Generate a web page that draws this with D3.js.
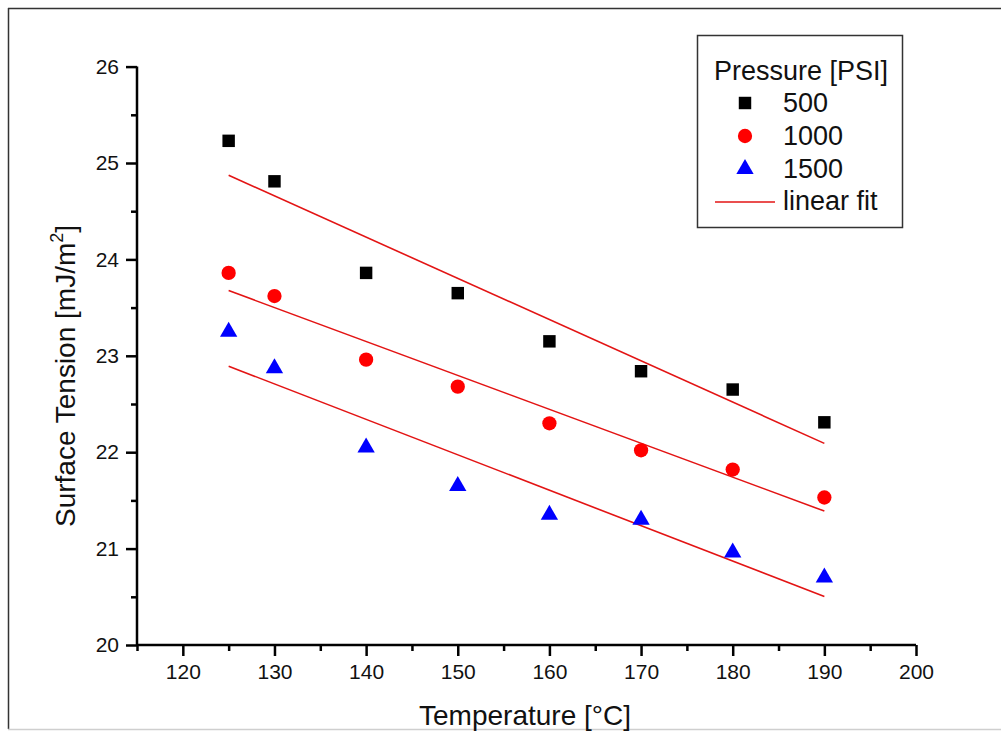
<!DOCTYPE html>
<html>
<head>
<meta charset="utf-8">
<script src="https://cdn.jsdelivr.net/npm/d3@7"></script>
<style>
  body { margin: 0; background: #fff; }
  svg { display: block; font-family: "Liberation Sans", Arial, sans-serif; }
  .axis path, .axis line { stroke: #000; stroke-width: 2.5; }
  .axis text { font-size: 21px; fill: #111; font-family: "Liberation Sans", Arial, sans-serif; }
</style>
</head>
<body>
<div id="chart"></div>
<script>
var width = 1001,
    height = 733;

// data
var temperatures = [125, 130, 140, 150, 160, 170, 180, 190];
var tension500  = [25.23, 24.81, 23.86, 23.65, 23.15, 22.84, 22.65, 22.31];
var tension1000 = [23.86, 23.62, 22.96, 22.68, 22.30, 22.02, 21.82, 21.53];
var tension1500 = [23.25, 22.87, 22.05, 21.65, 21.35, 21.30, 20.96, 20.70];
var pressures = ["500", "1000", "1500"];
var xTicks = [120, 130, 140, 150, 160, 170, 180, 190, 200];
var yTicks = [20, 21, 22, 23, 24, 25, 26];

var series = [
    {name: pressures[0], values: tension500, color: "#000000", shape: d3.symbolSquare},
    {name: pressures[1], values: tension1000, color: "#ff0000", shape: d3.symbolCircle},
    {name: pressures[2], values: tension1500, color: "#0000ff", shape: d3.symbolTriangle}
];

var plotLeft = 137, plotRight = 916, plotTop = 66.6, plotBottom = 645;

var x = d3.scaleLinear().domain([115, 200]).range([plotLeft, plotRight]);
var y = d3.scaleLinear().domain([20, 26]).range([plotBottom, plotTop]);

var svg = d3.select("#chart").append("svg")
    .attr("width", width)
    .attr("height", height);

// outer frame
svg.append("line").attr("x1", 8).attr("y1", 8.5).attr("x2", width).attr("y2", 8.5)
    .attr("stroke", "#333").attr("stroke-width", 1.5);
svg.append("line").attr("x1", 8.5).attr("y1", 8).attr("x2", 8.5).attr("y2", 729)
    .attr("stroke", "#333").attr("stroke-width", 1.5);
svg.append("line").attr("x1", 8).attr("y1", 729.5).attr("x2", width).attr("y2", 729.5)
    .attr("stroke", "#cfcfcf").attr("stroke-width", 1.5);

// minor ticks
svg.append("g").attr("class", "axis")
    .attr("transform", "translate(0," + plotBottom + ")")
    .call(d3.axisBottom(x).tickValues(d3.range(115, 200, 10)).tickSize(6).tickFormat(""))
    .select(".domain").remove();
svg.append("g").attr("class", "axis")
    .attr("transform", "translate(" + plotLeft + ",0)")
    .call(d3.axisLeft(y).tickValues(d3.range(20.5, 26, 1)).tickSize(6).tickFormat(""))
    .select(".domain").remove();

// major axes
var xAxis = svg.append("g").attr("class", "axis")
    .attr("transform", "translate(0," + plotBottom + ")")
    .call(d3.axisBottom(x).tickValues(xTicks).tickSize(11).tickSizeOuter(0)
        .tickPadding(8).tickFormat(d3.format("d")));
var yAxis = svg.append("g").attr("class", "axis")
    .attr("transform", "translate(" + plotLeft + ",0)")
    .call(d3.axisLeft(y).tickValues(yTicks).tickSize(11).tickSizeOuter(0)
        .tickPadding(7).tickFormat(d3.format("d")));

xAxis.select(".domain").attr("d", "M" + plotLeft + ",0H" + plotRight);
yAxis.select(".domain").attr("d", "M0," + plotTop + "V" + plotBottom);

// axis titles
svg.append("text")
    .attr("x", 525)
    .attr("y", 725)
    .attr("text-anchor", "middle")
    .style("font-size", "28px")
    .attr("fill", "#111")
    .text("Temperature [\u00B0C]");

var yTitle = svg.append("text")
    .attr("transform", "translate(75,376) rotate(-90)")
    .attr("text-anchor", "middle")
    .style("font-size", "28px")
    .attr("fill", "#111");
yTitle.append("tspan").text("Surface Tension [mJ/m");
yTitle.append("tspan").attr("dy", -12).style("font-size", "18px").text("2");
yTitle.append("tspan").attr("dy", 12).text("]");

// least squares fit for each series
var fitLine = function(values) {
    var mx = d3.mean(temperatures), my = d3.mean(values);
    var sxy = 0, sxx = 0;
    temperatures.forEach(function(t, i) {
        sxy += (t - mx) * (values[i] - my);
        sxx += (t - mx) * (t - mx);
    });
    var slope = sxy / sxx;
    var ends = d3.extent(temperatures);
    return ends.map(function(t) { return [t, my + slope * (t - mx)]; });
};

var line = d3.line()
    .x(function(d) { return x(d[0]); })
    .y(function(d) { return y(d[1]); });

svg.selectAll(".fit")
    .data(series)
    .enter().append("path")
    .attr("class", "fit")
    .attr("d", function(d) { return line(fitLine(d.values)); })
    .attr("fill", "none")
    .attr("stroke", "#e31414")
    .attr("stroke-width", 1.6);

var symbolSize = function(shape) {
    if (shape === d3.symbolSquare) return 155;
    if (shape === d3.symbolCircle) return 160;
    return 130;
};

series.forEach(function(s) {
    svg.selectAll(".pt-" + s.name)
        .data(s.values)
        .enter().append("path")
        .attr("class", "pt-" + s.name)
        .attr("d", d3.symbol().type(s.shape).size(symbolSize(s.shape)))
        .attr("transform", function(d, i) {
            return "translate(" + x(temperatures[i]) + "," + y(d) + ")";
        })
        .attr("fill", s.color);
});

// legend
var legend = svg.append("g").attr("class", "legend");
legend.append("rect")
    .attr("x", 697.5).attr("y", 35.5).attr("width", 205).attr("height", 192)
    .attr("fill", "#fff").attr("stroke", "#333").attr("stroke-width", 1.5);
legend.append("text")
    .attr("x", 714).attr("y", 80)
    .style("font-size", "27px").attr("fill", "#111")
    .text("Pressure [PSI]");

var rows = legend.selectAll(".row")
    .data(series)
    .enter().append("g")
    .attr("class", "row")
    .attr("transform", function(d, i) { return "translate(745," + (103 + i * 33) + ")"; });
rows.append("path")
    .attr("d", function(d) { return d3.symbol().type(d.shape).size(symbolSize(d.shape))(); })
    .attr("fill", function(d) { return d.color; });
rows.append("text")
    .attr("x", 38).attr("y", 9)
    .style("font-size", "27px").attr("fill", "#111")
    .text(function(d) { return d.name; });

legend.append("line")
    .attr("x1", 715).attr("x2", 775).attr("y1", 202).attr("y2", 202)
    .attr("stroke", "#e31414").attr("stroke-width", 1.6);
legend.append("text")
    .attr("x", 783).attr("y", 210)
    .style("font-size", "27px").attr("fill", "#111")
    .text("linear fit");
</script>
</body>
</html>
